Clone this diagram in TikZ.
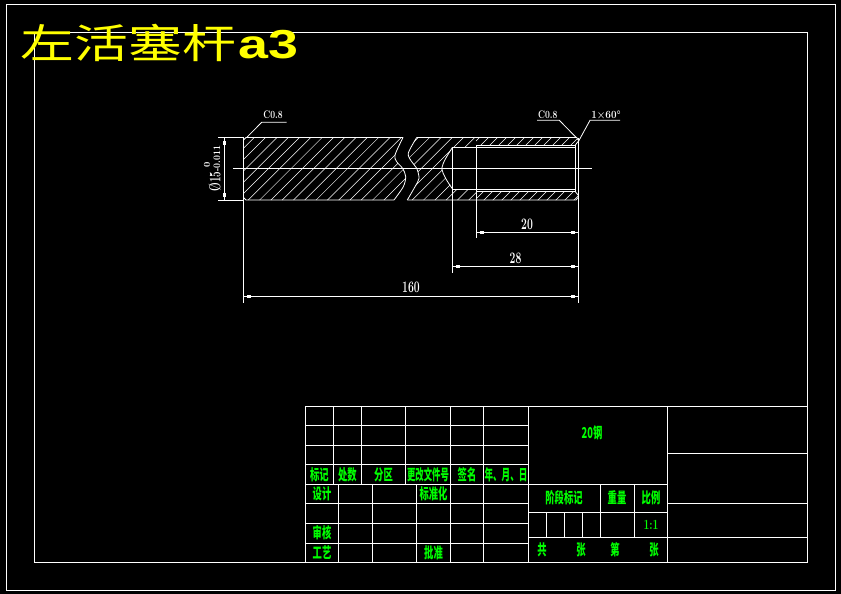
\documentclass[tikz,border=0pt]{standalone}
\usepackage{fontspec}
\newfontfamily\cjk{Noto Sans CJK SC}
\newfontfamily\wideface{Liberation Sans}
\definecolor{cadgreen}{RGB}{0,255,0}
\definecolor{cadyellow}{RGB}{255,255,0}
\begin{document}
\begin{tikzpicture}[x=1pt, y=-1pt,
    line/.style={white, line width=0.8pt},
    hatch/.style={white, line width=0.5pt},
    dimtext/.style={white, inner sep=0pt, font=\bfseries\fontsize{16}{16}\selectfont, xscale=0.65, transform shape},
    smalltext/.style={white, inner sep=0pt, font=\bfseries\fontsize{11}{11}\selectfont, xscale=0.78, transform shape},
    cnlabel/.style={cadgreen, inner sep=0pt, font=\cjk\bfseries\fontsize{15}{15}\selectfont, xscale=0.62, transform shape}]
    \useasboundingbox[fill=black] (0,0) rectangle (841,594);

    % frames
    \draw[line] (6,4) rectangle (835,590);
    \draw[line] (34.5,32.5) rectangle (807.3,562.3);

    \node[cadyellow, inner sep=0pt, anchor=west, xscale=1.17, yscale=0.88, transform shape, font=\cjk\fontsize{46}{46}\selectfont] (title) at (20.5,42.5) {左活塞杆\kern2pt{\wideface\bfseries a3}};

    % left piece
    \begin{scope}
        \clip plot[smooth] coordinates {(403,137.5) (395,155) (396.7,161.7) (402.7,168.5) (405.7,176.7) (403.3,186.7) (394,200)} -- (243.5,200) -- (243.5,140) -- (246,137.5) -- cycle;
        \foreach \x in {191.8,203.1,...,400}
            \draw[hatch] (\x,200) -- (\x+62.5,137.5);
    \end{scope}
    \draw[line] plot[smooth] coordinates {(403,137.5) (395,155) (396.7,161.7) (402.7,168.5) (405.7,176.7) (403.3,186.7) (394,200)};
    \draw[line] (403,137.5) -- (246,137.5) -- (243.5,140);
    \draw[line] (394,200) -- (246,200) -- (243.5,197.5);

    % right piece
    \begin{scope}
        \clip plot[smooth] coordinates {(416.7,137.5) (408.3,153.3) (411.7,161.7) (416.7,168.3) (419,178.3) (415,186.7) (407.3,200)} -- (476,200) -- (476,189) -- (452.5,189) -- (441.7,168.5) -- (452.5,147) -- (476,147) -- (476,137.5) -- cycle;
        \foreach \x in {344.5,355.8,...,480}
            \draw[hatch] (\x,200) -- (\x+62.5,137.5);
    \end{scope}
    \begin{scope}
        \clip (476,137.5) -- (576.7,137.5) -- (578,140) -- (575,145.5) -- (476,145.5) -- cycle;
        \foreach \x in {470,479,...,580}
            \draw[hatch] (\x,147) -- (\x+10,137);
    \end{scope}
    \begin{scope}
        \clip (476,191.3) -- (575,191.3) -- (578,195) -- (578,197.5) -- (576,200) -- (476,200) -- cycle;
        \foreach \x in {465,474,...,580}
            \draw[hatch] (\x,201) -- (\x+10,191);
    \end{scope}
    \draw[line] plot[smooth] coordinates {(416.7,137.5) (408.3,153.3) (411.7,161.7) (416.7,168.3) (419,178.3) (415,186.7) (407.3,200)};
    \draw[line] (416.7,137.5) -- (576.7,137.5) -- (578,140);
    \draw[line] (407.3,200) -- (576,200) -- (578,197.5);
    \draw[line] (452.5,147.3) -- (575,147.3);
    \draw[line] (452.5,189) -- (575,189);
    \draw[line] (476,145.5) -- (575,145.5) -- (575,191.3) -- (476,191.3);
    \draw[line] (575,145.5) -- (578,141.5);
    \draw[line] (575,191.3) -- (578,195);
    \draw[line] (452.5,147.3) .. controls (447,156) and (443,162) .. (441.7,168.5) .. controls (443,175) and (447,181) .. (452.5,189);

    % center line and extension lines
    \draw[line] (233,168.5) -- (592,168.5);
    \draw[line] (243.5,137.5) -- (243.5,302.5);
    \draw[line] (578,137.5) -- (578,302.5);
    \draw[line] (452.5,147.3) -- (452.5,272.5);
    \draw[line] (476,145.5) -- (476,238);
    \draw[line] (218,137.5) -- (243.5,137.5);
    \draw[line] (218,200) -- (243.5,200);

    % dimensions
    \draw[line] (476,232.3) -- (578,232.3);
    \draw[line] (452.5,266.3) -- (578,266.3);
    \draw[line] (243.5,296.3) -- (578,296.3);
    \draw[line] (224.3,137.5) -- (224.3,200);
    \foreach \x/\y in {481.7/232.3, 573/232.3, 458/266.3, 573/266.3, 249/296.3, 573/296.3}
        \fill[white] (\x-2,\y-1.5) rectangle (\x+2,\y+1.5);
    \foreach \y in {142.7,195}
        \fill[white] (222.8,\y-2) rectangle (225.8,\y+2);

    \node[dimtext] (dimTwenty) at (527,224) {20};
    \node[dimtext] (dimTwentyEight) at (515.5,258) {28};
    \node[dimtext] (dimLength) at (411,287.5) {160};

    \node[white, inner sep=0pt, rotate=90, xscale=0.62, transform shape, font=\bfseries\fontsize{16}{16}\selectfont] (diaMain) at (215,181.5) {Ø15};
    \node[white, inner sep=0pt, rotate=90, xscale=0.85, transform shape, font=\bfseries\fontsize{10}{10}\selectfont] (diaLower) at (217,158.5) {-0.011};
    \node[white, inner sep=0pt, rotate=90, font=\bfseries\fontsize{9}{9}\selectfont] (diaUpper) at (207,165) {0};

    % leaders
    \draw[line] (246.7,137.5) -- (261.7,122.3) -- (286.7,122.3);
    \draw[line] (576,137.3) -- (559.3,120.3) -- (537,120.3);
    \draw[line] (578.3,141.7) -- (590,120.3) -- (620,120.3);
    \node[smalltext] (chamferLeft) at (273,115) {C0.8};
    \node[smalltext] (chamferRight) at (547.7,115) {C0.8};
    \node[smalltext, xscale=1.15] (threadNote) at (606,115) {1×60°};

    % title block
    \draw[line] (305.5,406.3) rectangle (807.3,562.3);
    \foreach \y in {425.3,445.3,464.3,484.3,503.3,523.7,543.7}
        \draw[line] (305.5,\y) -- (528.3,\y);
    \foreach \x in {333.5,361.3,405.7}
        \draw[line] (\x,406.3) -- (\x,484.3);
    \foreach \x in {338.3,372.3,416.3}
        \draw[line] (\x,484.3) -- (\x,562.3);
    \foreach \x in {450.3,483.3,528.3}
        \draw[line] (\x,406.3) -- (\x,562.3);
    \draw[line] (667.3,406.3) -- (667.3,562.3);
    \draw[line] (528.3,484.3) -- (667.3,484.3);
    \draw[line] (528.3,512.3) -- (667.3,512.3);
    \draw[line] (528.3,537.3) -- (807.3,537.3);
    \draw[line] (667.3,453.3) -- (807.3,453.3);
    \draw[line] (667.3,503.3) -- (807.3,503.3);
    \draw[line] (600.3,484.3) -- (600.3,537.3);
    \draw[line] (634.3,484.3) -- (634.3,537.3);
    \foreach \x in {546.3,564.3,582.3}
        \draw[line] (\x,512.3) -- (\x,537.3);

    \node[cnlabel] (markLabel) at (319.3,475) {标记};
    \node[cnlabel] (countLabel) at (347.3,475) {处数};
    \node[cnlabel] (zoneLabel) at (383.5,475) {分区};
    \node[cnlabel, xscale=0.9] (changeLabel) at (428,475) {更改文件号};
    \node[cnlabel] (signLabel) at (467,475) {签名};
    \node[cnlabel, xscale=0.92] (dateLabel) at (506,475) {年、月、日};
    \node[cnlabel] (designLabel) at (322,494) {设计};
    \node[cnlabel] (standardLabel) at (433.5,494) {标准化};
    \node[cnlabel] (reviewLabel) at (322,533) {审核};
    \node[cnlabel] (craftLabel) at (322,553) {工艺};
    \node[cnlabel] (approveLabel) at (433.5,553) {批准};
    \node[cnlabel] (materialLabel) at (592,432.5) {20钢};
    \node[cnlabel] (stageLabel) at (564,498) {阶段标记};
    \node[cnlabel] (weightLabel) at (617,498) {重量};
    \node[cnlabel] (ratioLabel) at (651,498) {比例};
    \node[cnlabel, font=\bfseries\fontsize{14}{14}\selectfont, xscale=1.2] (ratioValue) at (651,525) {1:1};
    \node[cnlabel] (totalLabel) at (542,550) {共};
    \node[cnlabel] (sheetLabel) at (581,550) {张};
    \node[cnlabel] (orderLabel) at (615,550) {第};
    \node[cnlabel] (sheetLabelB) at (654,550) {张};
\end{tikzpicture}
\end{document}
